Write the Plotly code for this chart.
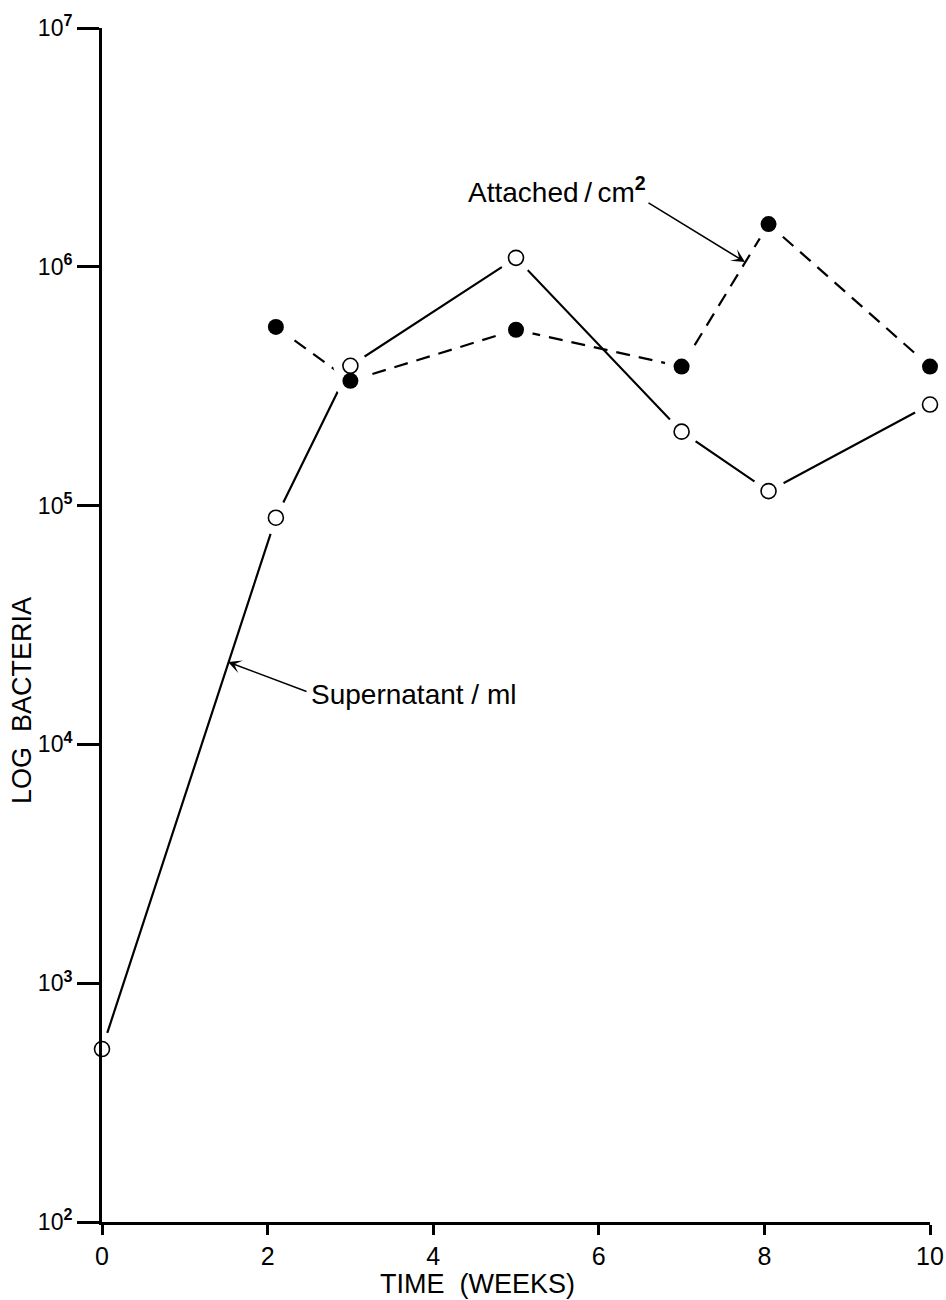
import numpy as np
import plotly.graph_objects as go

# Data
sup_weeks = [0, 2.1, 3, 5, 7, 8.05, 10]
sup_values = [530, 8.9e4, 3.85e5, 1.09e6, 2.04e5, 1.15e5, 2.65e5]

att_weeks = [2.1, 3, 5, 7, 8.05, 10]
att_values = [5.6e5, 3.33e5, 5.45e5, 3.82e5, 1.51e6, 3.82e5]

x_ticks = [0, 2, 4, 6, 8, 10]
y_tickvals = [1e2, 1e3, 1e4, 1e5, 1e6, 1e7]
y_exponents = [2, 3, 4, 5, 6, 7]
y_ticktext = ["10<sup><b>%d</b></sup>" % e for e in y_exponents]

FONT = "Liberation Sans, Arial, Helvetica, sans-serif"

fig = go.Figure()

# lines
fig.add_trace(go.Scatter(x=sup_weeks, y=sup_values, mode="lines",
                         line=dict(color="black", width=2.2), showlegend=False,
                         hoverinfo="skip"))
fig.add_trace(go.Scatter(x=att_weeks, y=att_values, mode="lines",
                         line=dict(color="black", width=2.2, dash="14px,9px"),
                         showlegend=False, hoverinfo="skip"))
# white gaps around points
fig.add_trace(go.Scatter(x=sup_weeks + att_weeks, y=sup_values + att_values,
                         mode="markers", cliponaxis=False,
                         marker=dict(size=34, color="white", line=dict(width=0)),
                         showlegend=False, hoverinfo="skip"))
# markers
fig.add_trace(go.Scatter(x=sup_weeks, y=sup_values, mode="markers", cliponaxis=False,
                         marker=dict(size=15, color="white", symbol="circle",
                                     line=dict(color="black", width=1.6)),
                         name="Supernatant / ml", showlegend=False))
fig.add_trace(go.Scatter(x=att_weeks, y=att_values, mode="markers", cliponaxis=False,
                         marker=dict(size=16, color="black", symbol="circle",
                                     line=dict(color="black", width=0)),
                         name="Attached / cm2", showlegend=False))

# body margin is removed in post_script, so page pixels == figure pixels
W, H = 946, 1300
PL, PR, PT, PB = 102, 930, 28, 1222
L, R, T, B = PL, W - PR, PT, H - PB
PW, PH = PR - PL, PB - PT


def px_to_data(px, py):
    x = (px - PL) / PW * 10
    ly = 7 - (py - PT) / PH * 5
    return x, ly


def px_to_paper(px, py):
    return (px - PL) / PW, (PB - py) / PH


annotations = []
# Attached label + arrow
hx, hy = px_to_data(745, 262)
annotations.append(dict(x=hx, y=hy, xref="x", yref="y", text="", showarrow=True,
                        ax=-98, ay=-60, arrowhead=3, arrowsize=1.4, arrowwidth=1.6,
                        arrowcolor="black", standoff=0, startstandoff=0))
tx, ty = px_to_data(466, 190)
annotations.append(dict(x=tx, y=ty, xref="x", yref="y",
                        text="Attached\u2009/\u2009cm<sup><b>2</b></sup>",
                        showarrow=False, xanchor="left", yanchor="middle",
                        font=dict(size=28, family=FONT, color="black")))
# Supernatant label + arrow
hx, hy = px_to_data(228, 662)
annotations.append(dict(x=hx, y=hy, xref="x", yref="y", text="", showarrow=True,
                        ax=80, ay=30, arrowhead=3, arrowsize=1.4, arrowwidth=1.6,
                        arrowcolor="black", standoff=0, startstandoff=0))
tx, ty = px_to_data(309, 694)
annotations.append(dict(x=tx, y=ty, xref="x", yref="y", text="Supernatant / ml",
                        showarrow=False, xanchor="left", yanchor="middle",
                        font=dict(size=28, family=FONT, color="black")))
# axis titles
yx, yy = px_to_paper(22, 701)
annotations.append(dict(x=yx, y=yy, xref="paper", yref="paper",
                        text="LOG  BACTERIA", textangle=-90, showarrow=False,
                        xanchor="center", yanchor="middle",
                        font=dict(size=27, family=FONT, color="black")))
xx, xy = px_to_paper(477, 1284)
annotations.append(dict(x=xx, y=xy, xref="paper", yref="paper", text="TIME  (WEEKS)",
                        showarrow=False, xanchor="center", yanchor="middle",
                        font=dict(size=27, family=FONT, color="black")))

fig.update_layout(
    width=W, height=H,
    margin=dict(l=L, r=R, t=T, b=B, autoexpand=False),
    paper_bgcolor="white", plot_bgcolor="white",
    font=dict(family=FONT, color="black"),
    annotations=annotations,
    showlegend=False,
)
fig.update_xaxes(range=[0, 10], tickvals=x_ticks, ticktext=[str(v) for v in x_ticks],
                 showgrid=False, zeroline=False, showline=True, linecolor="black",
                 linewidth=3, ticks="outside", ticklen=10, tickwidth=3, tickcolor="black",
                 tickfont=dict(size=25, family=FONT, color="black"), automargin=False)
fig.update_yaxes(type="log", range=[2, 7], tickvals=y_tickvals, ticktext=y_ticktext,
                 showgrid=False, zeroline=False, showline=True, linecolor="black",
                 linewidth=3, ticks="outside", ticklen=22, tickwidth=3, tickcolor="black",
                 tickfont=dict(size=23, family=FONT, color="black"), automargin=False)

fig.write_html("out.html",
               config={"displayModeBar": False},
               post_script="document.body.style.margin='0px';"
                           "document.body.style.padding='0px';"
                           "document.body.style.overflow='hidden';")
